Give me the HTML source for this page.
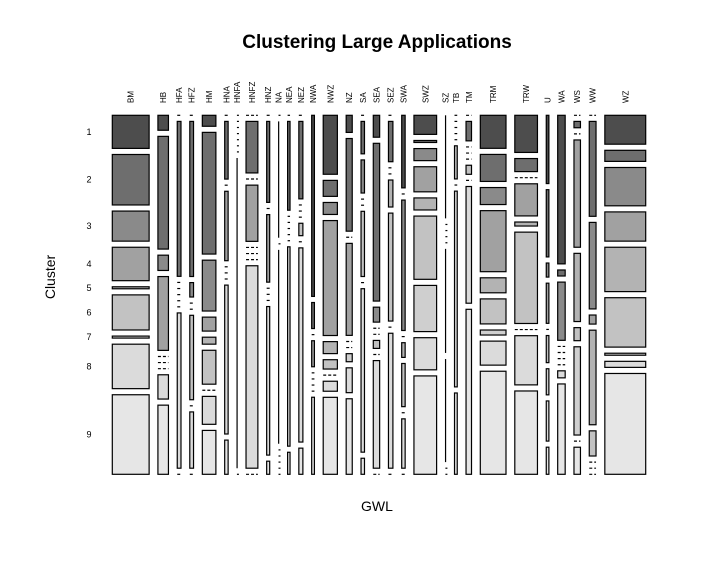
<!DOCTYPE html>
<html><head><meta charset="utf-8"><style>
html,body{margin:0;padding:0;background:#fff;}
svg{display:block;font-family:"Liberation Sans",sans-serif;}
</style></head><body>
<svg id="chart" width="716" height="574" viewBox="0 0 716 574">
<text x="377" y="48" text-anchor="middle" font-size="19" font-weight="bold">Clustering Large Applications</text>
<text x="377" y="511" text-anchor="middle" font-size="14">GWL</text>
<text transform="translate(55,277) rotate(-90)" text-anchor="middle" font-size="14">Cluster</text>
<g id="marks"></g>
</svg>
<script>
const categories = ["BM","HB","HFA","HFZ","HM","HNA","HNFA","HNFZ","HNZ","NA","NEA","NEZ","NWA","NWZ","NZ","SA","SEA","SEZ","SWA","SWZ","SZ","TB","TM","TRM","TRW","U","WA","WS","WW","WZ"];
const colTotals = [36.4,10.4,3.7,3.7,13.4,3.4,0.3,11.7,3,0.3,2.4,4,2.7,14,6,3.4,6.3,4.4,3.4,22.4,0.3,2.7,5.4,25.4,22.4,2.6,7.4,6.4,6.7,40.4];
const clusters = ["1","2","3","4","5","6","7","8","9"];
const cellCounts = [
[99,151,90,100,6,105,6,133,238],
[45,339,46,222,0,0,0,73,208],
[0,463,0,0,0,0,0,464,0],
[0,463,43,0,0,252,0,168,0],
[33,366,153,42,21,102,0,84,132],
[0,172,0,207,0,0,0,444,102],
[0,0,0,0,0,0,0,927,0],
[0,154,0,168,0,0,0,605,0],
[0,241,0,201,0,0,0,442,39],
[0,348,0,580,0,0,0,0,0],
[0,266,0,0,0,0,0,597,66],
[0,231,0,0,0,37,0,579,78],
[543,78,0,78,0,0,0,0,231],
[177,48,36,345,36,28,0,30,231],
[51,276,0,274,0,0,24,74,225],
[0,97,99,0,0,195,0,489,48],
[66,475,45,0,0,24,0,324,0],
[0,121,0,0,81,324,0,405,0],
[222,0,399,0,45,132,0,151,0],
[57,6,36,75,36,189,138,96,294],
[308,0,0,0,0,311,308,0,0],
[0,0,0,0,0,99,0,585,243],
[0,58,0,0,0,27,0,348,492],
[99,81,51,183,45,75,15,72,309],
[111,39,0,96,12,273,0,147,249],
[204,201,42,120,0,81,78,120,81],
[444,18,174,0,0,0,0,21,270],
[0,19,0,321,204,39,264,0,81],
[0,283,258,27,282,75,0,0,0],
[86,33,114,87,132,147,6,18,300]
];
const shades = ["#4d4d4d","#6e6e6e","#8a8a8a","#a1a1a1","#b3b3b3","#c2c2c2","#cfcfcf","#dbdbdb","#e6e6e6"];

const NS="http://www.w3.org/2000/svg";
const g=document.getElementById('marks');
const X0=112.3,X1=645.7,COLGAP=8.8,Y0=115.3,Y1=474.3,ROWGAP=6.1;
const totW=colTotals.reduce((a,b)=>a+b,0);
const wScale=(X1-X0-COLGAP*(categories.length-1))/totW;
function mk(tag,attrs){const e=document.createElementNS(NS,tag);for(const k in attrs)e.setAttribute(k,attrs[k]);return e;}
let x=X0;
categories.forEach((cat,ci)=>{
  const w=colTotals[ci]*wScale;
  const vals=cellCounts[ci];
  const tot=vals.reduce((a,b)=>a+b,0);
  const hScale=(Y1-Y0-ROWGAP*(clusters.length-1))/tot;
  const grp=mk('g',{});
  
  
  g.appendChild(grp);
  let y=Y0;
  vals.forEach((v,ri)=>{
    const h=v*hScale;
    let el;
    if(v===0){
      el=mk('line',{x1:x,x2:x+Math.max(w,2),y1:y,y2:y,stroke:'#000','stroke-width':1.2,'stroke-dasharray':'3,2'});
    } else if(w<1){
      el=mk('line',{x1:x+w/2,x2:x+w/2,y1:y,y2:y+h,stroke:'#000','stroke-width':1.2});
    } else {
      el=mk('rect',{x:x,y:y,width:w,height:h,fill:shades[ri],stroke:'#000','stroke-width':1.2});
    }
    
    
    grp.appendChild(el);
    if(ci===0){
      const t=mk('text',{x:89,y:y+h/2+3,'text-anchor':'middle','font-size':9});
      t.textContent=clusters[ri];
      
      
      g.appendChild(t);
    }
    y+=h+ROWGAP;
  });
  const cx=x+w/2+3;
  const lab=mk('text',{transform:'translate('+cx+',103) rotate(-90)','font-size':8});
  lab.textContent=cat;
  
  
  g.appendChild(lab);
  x+=w+COLGAP;
});
</script>
</body></html>
